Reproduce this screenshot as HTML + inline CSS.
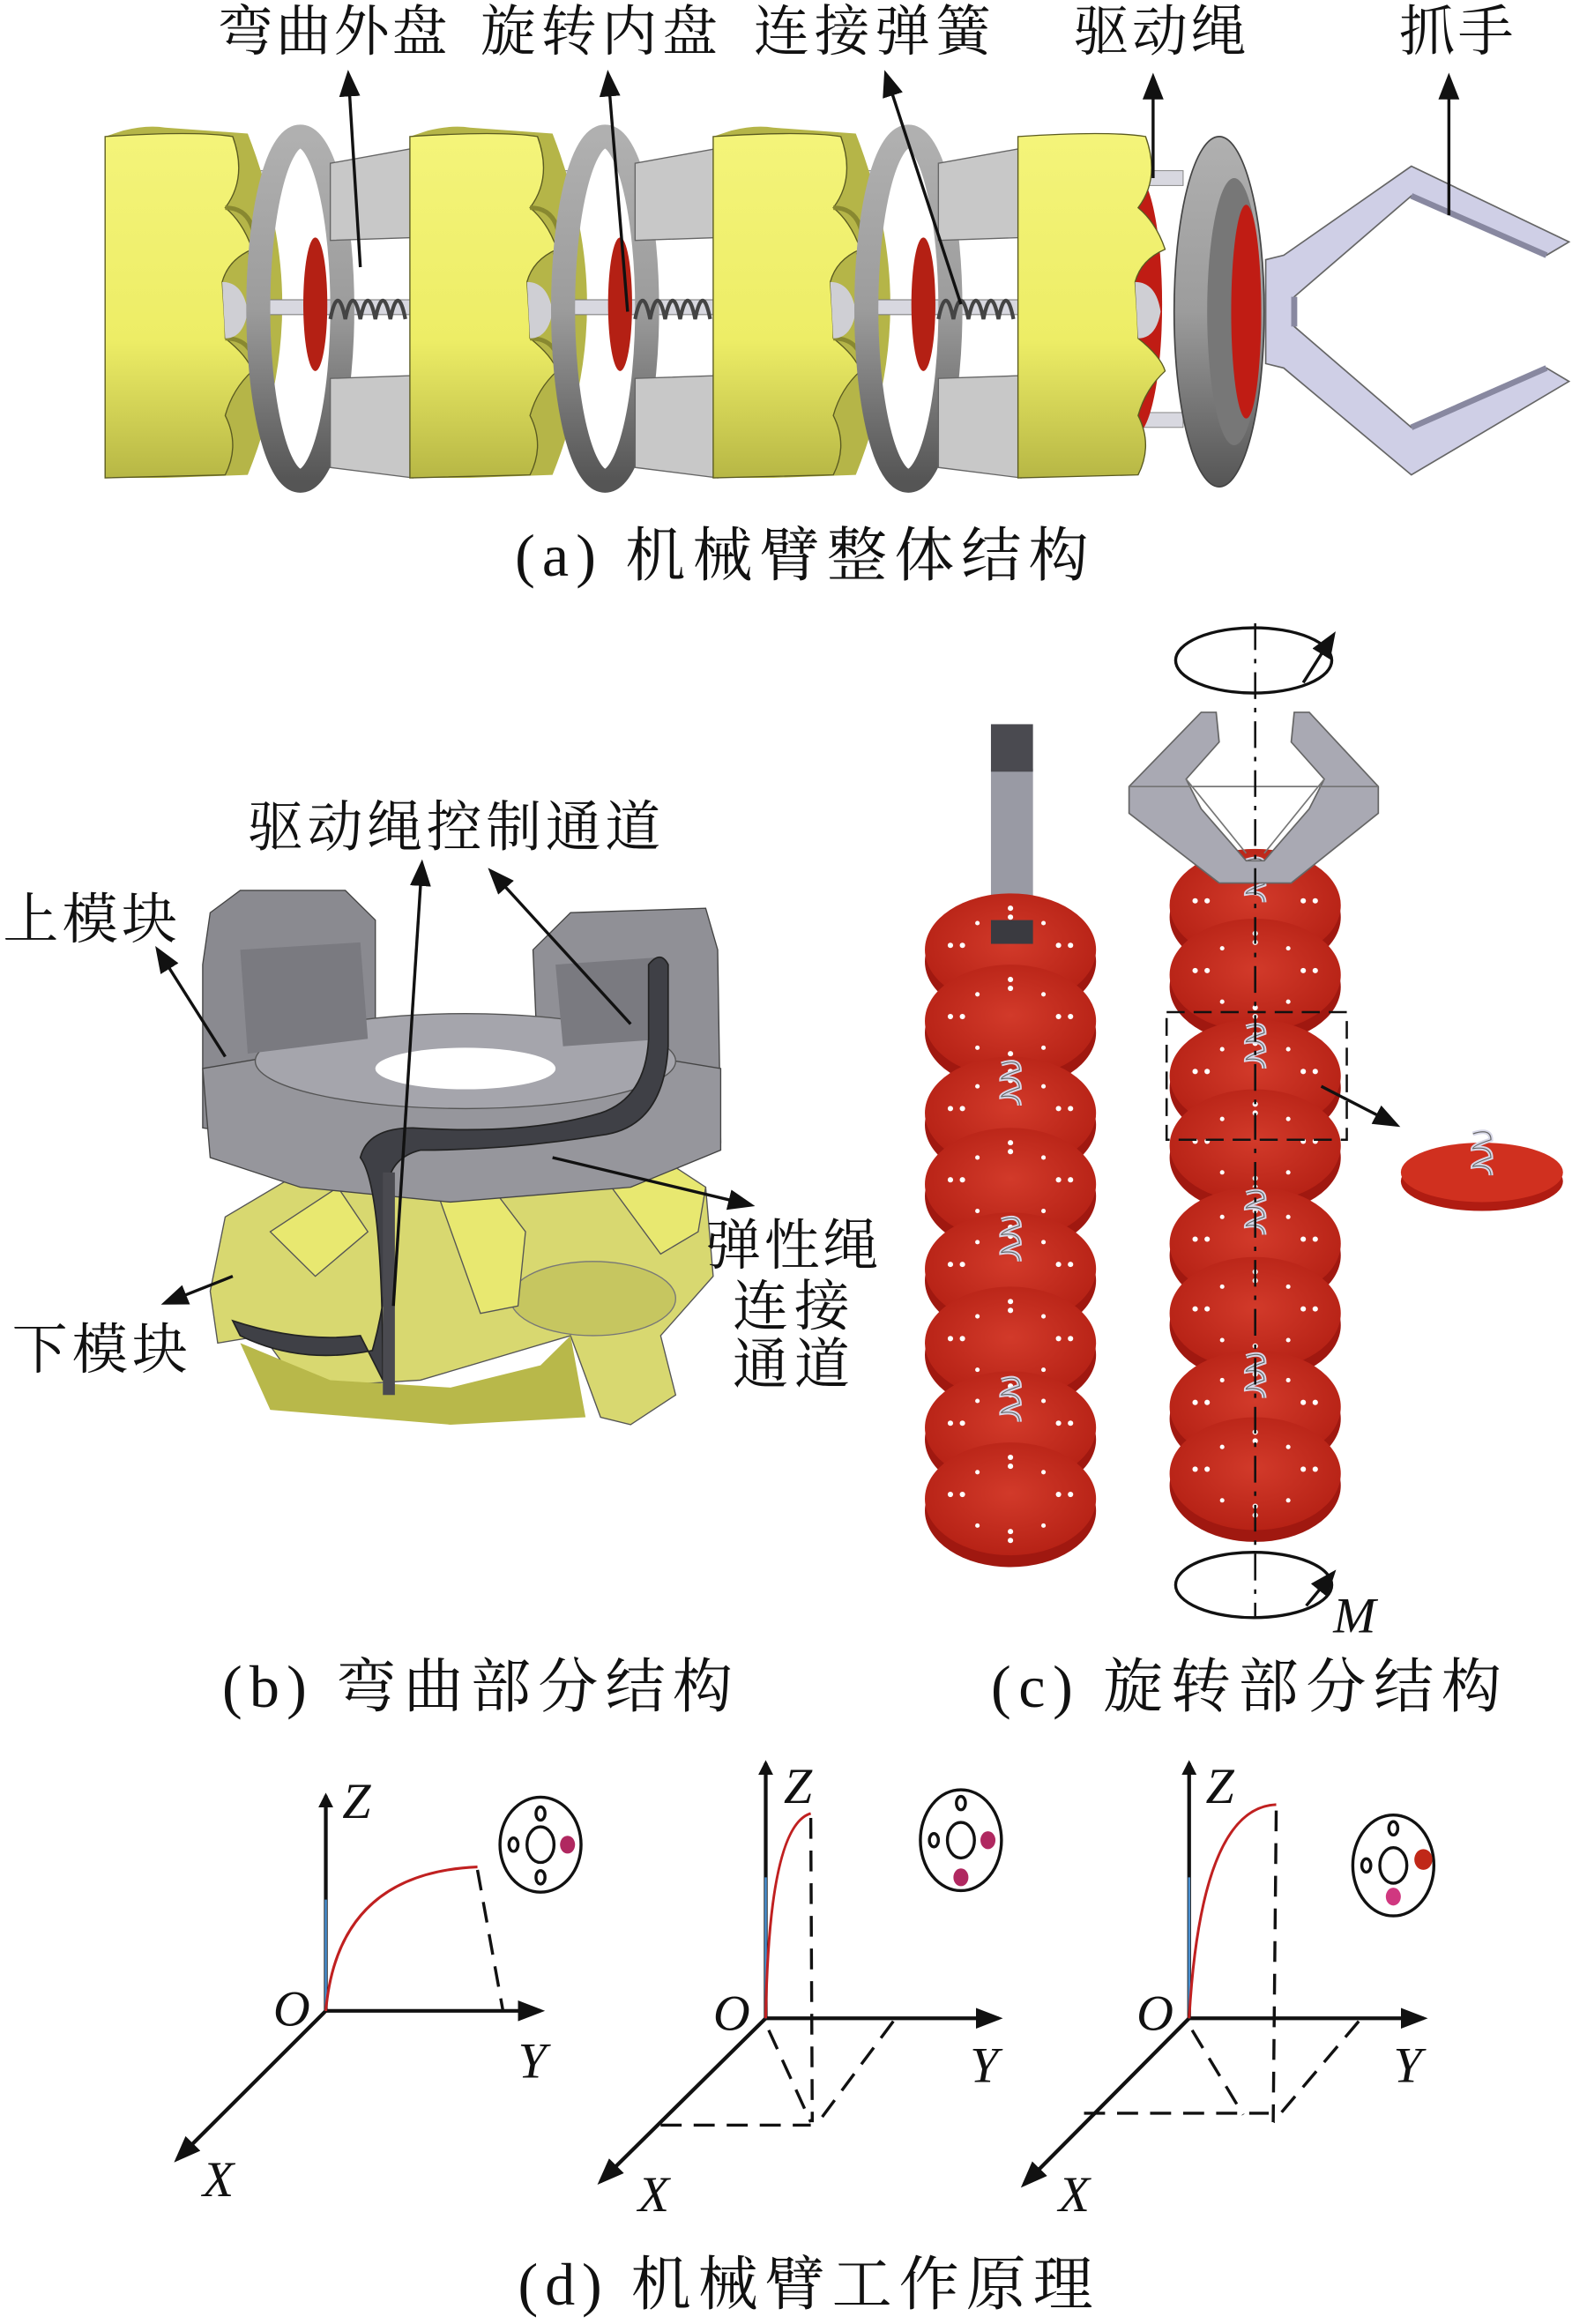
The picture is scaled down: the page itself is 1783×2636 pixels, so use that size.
<!DOCTYPE html>
<html><head><meta charset="utf-8"><style>
html,body{margin:0;padding:0;background:#fff}
svg{display:block}
text{font-family:"Liberation Serif","Noto Serif CJK SC",serif;fill:#111}
</style></head><body>
<svg width="1783" height="2636" viewBox="0 0 1047 1566" preserveAspectRatio="none" xmlns="http://www.w3.org/2000/svg">
<defs>
<marker id="ah" markerWidth="10" markerHeight="10" refX="8" refY="5" orient="auto" markerUnits="userSpaceOnUse"><path d="M0,0 L10,5 L0,10 Z" fill="#111"/></marker>
<marker id="ahb" markerWidth="18" markerHeight="14" refX="15" refY="7" orient="auto" markerUnits="userSpaceOnUse"><path d="M0,0 L18,7 L0,14 Z" fill="#111"/></marker>
<linearGradient id="yg" x1="0" y1="0" x2="0" y2="1"><stop offset="0" stop-color="#f4f47a"/><stop offset="0.6" stop-color="#eded66"/><stop offset="1" stop-color="#b7b745"/></linearGradient>
<linearGradient id="gg" x1="0" y1="0" x2="0" y2="1"><stop offset="0" stop-color="#b0b0b0"/><stop offset="0.5" stop-color="#9c9c9c"/><stop offset="1" stop-color="#555"/></linearGradient>
<radialGradient id="rg" cx="0.5" cy="0.45" r="0.6"><stop offset="0" stop-color="#d23a2a"/><stop offset="1" stop-color="#b42014"/></radialGradient>
<g id="mod">
  <rect x="40" y="115" width="70" height="10" fill="#d8d8e0" stroke="#888" stroke-width="0.6"/>
  <rect x="40" y="278" width="70" height="10" fill="#d8d8e0" stroke="#888" stroke-width="0.6"/>
  <ellipse cx="78" cy="205" rx="18" ry="88" fill="#c01c14" stroke="#600" stroke-width="1"/>
  <path d="M0,92 L12,88 Q28,84 40,86 L95,90 Q118,150 118,205 Q118,262 95,320 L40,322 L0,322 Z" fill="#b5b548"/>
  <path d="M0,92 Q60,88 85,92 Q95,120 80,140 Q92,150 98,168 Q82,175 78,190 Q80,220 80,228 Q95,240 98,250 Q85,262 80,280 Q90,300 80,320 L0,322 Z" fill="url(#yg)" stroke="#5a5a20" stroke-width="0.8"/>
  <path d="M80,140 Q100,140 100,168 L96,172 M80,228 Q100,228 100,252" fill="none" stroke="#888830" stroke-width="3"/>
  <path d="M78,190 Q92,190 95,210 Q92,228 80,228 Z" fill="#cfcfd4"/>
  <rect x="108" y="202" width="96" height="10" fill="#d8d8e0" stroke="#777" stroke-width="0.6"/>
  <ellipse cx="130" cy="208" rx="28" ry="116" fill="none" stroke="url(#gg)" stroke-width="16"/>
  <path d="M150,110 L205,100 L208,160 L150,162 Z" fill="#c8c8c8" stroke="#666" stroke-width="0.8"/>
  <path d="M150,255 L208,253 L205,322 L150,315 Z" fill="#c8c8c8" stroke="#666" stroke-width="0.8"/>
  <ellipse cx="140" cy="205" rx="8" ry="45" fill="#b42014"/>
  <path d="M150,215 q5,-25 10,0 q5,-25 10,0 q5,-25 10,0 q5,-25 10,0 q5,-25 10,0" fill="none" stroke="#444" stroke-width="2.5"/>
</g>
<g id="disc">
  <ellipse cx="0" cy="8" rx="57" ry="38" fill="#a01810"/>
  <ellipse cx="0" cy="0" rx="57" ry="38" fill="url(#rg)"/>
  <g fill="#fff"><circle cx="-40" cy="-3" r="1.8"/><circle cx="-32" cy="-3" r="1.8"/><circle cx="32" cy="-3" r="1.8"/><circle cx="40" cy="-3" r="1.8"/><circle cx="0" cy="-28" r="1.8"/><circle cx="0" cy="-22" r="1.8"/><circle cx="0" cy="22" r="1.8"/><circle cx="0" cy="28" r="1.8"/><circle cx="-22" cy="-18" r="1.5"/><circle cx="22" cy="18" r="1.5"/><circle cx="22" cy="-18" r="1.5"/><circle cx="-22" cy="18" r="1.5"/></g>
</g>
<g id="spr"><path d="M-6,-18 q12,-4 12,4 q-12,4 -12,6 q12,-2 12,6 q-12,4 -12,6 q12,-2 12,6" fill="none" stroke="#d8d8e8" stroke-width="3"/><path d="M-6,-18 q12,-4 12,4 q-12,4 -12,6 q12,-2 12,6 q-12,4 -12,6 q12,-2 12,6" fill="none" stroke="#666" stroke-width="0.7"/></g>
</defs>

<text x="145" y="34" font-size="37" textLength="153">弯曲外盘</text>
<text x="320" y="34" font-size="37" textLength="158">旋转内盘</text>
<text x="502" y="34" font-size="37" textLength="158">连接弹簧</text>
<text x="715" y="34" font-size="37" textLength="115">驱动绳</text>
<text x="932" y="34" font-size="37" textLength="76">抓手</text>

<use href="#mod" x="70" y="0"/>
<use href="#mod" x="273" y="0"/>
<use href="#mod" x="475" y="0"/>
<g transform="translate(678,0)">
  <rect x="40" y="115" width="70" height="10" fill="#d8d8e0" stroke="#888" stroke-width="0.6"/>
  <rect x="40" y="278" width="70" height="10" fill="#d8d8e0" stroke="#888" stroke-width="0.6"/>
  <ellipse cx="78" cy="205" rx="18" ry="88" fill="#c01c14"/>
  <path d="M0,92 Q60,88 85,92 Q95,120 80,140 Q92,150 98,168 Q82,175 78,190 Q80,220 80,228 Q95,240 98,250 Q85,262 80,280 Q90,300 80,320 L0,322 Z" fill="url(#yg)" stroke="#5a5a20" stroke-width="0.8"/>
  <path d="M78,190 Q92,190 95,210 Q92,228 80,228 Z" fill="#cfcfd4"/>
</g>
<ellipse cx="812" cy="210" rx="30" ry="118" fill="url(#gg)" stroke="#444" stroke-width="1"/>
<ellipse cx="822" cy="210" rx="18" ry="90" fill="#777"/>
<ellipse cx="830" cy="210" rx="10" ry="72" fill="#c01c14"/>
<path d="M843,175 L855,172 L940,112 L1045,163 L1030,172 L940,132 L862,200 L862,220 L940,288 L1030,248 L1045,257 L940,320 L855,248 L843,245 Z" fill="#cfcfe6" stroke="#666" stroke-width="1"/>
<path d="M940,132 L1030,172 M862,200 L862,220 M940,288 L1030,248" stroke="#8888a0" stroke-width="4" fill="none"/>

<line x1="240" y1="180" x2="232" y2="50" stroke="#111" stroke-width="2" marker-end="url(#ahb)"/>
<line x1="418" y1="210" x2="405" y2="50" stroke="#111" stroke-width="2" marker-end="url(#ahb)"/>
<line x1="640" y1="205" x2="590" y2="50" stroke="#111" stroke-width="2" marker-end="url(#ahb)"/>
<line x1="768" y1="120" x2="768" y2="52" stroke="#111" stroke-width="2" marker-end="url(#ahb)"/>
<line x1="965" y1="145" x2="965" y2="52" stroke="#111" stroke-width="2" marker-end="url(#ahb)"/>

<text x="343" y="388" font-size="40" textLength="382">(a) 机械臂整体结构</text>

<!-- Panel b -->
<path d="M140,870 L150,820 L200,790 L320,780 L400,785 L470,800 L475,860 L440,900 L450,940 L420,960 L400,955 L380,900 L280,930 L200,935 L175,900 L145,905 Z" fill="#d8d870" stroke="#555" stroke-width="0.8"/>
<path d="M160,905 L220,930 L300,935 L360,920 L380,900 L390,955 L300,960 L180,950 Z" fill="#b8b84a"/>
<ellipse cx="395" cy="875" rx="55" ry="25" fill="#c6c660" stroke="#777" stroke-width="0.8"/>
<path d="M400,790 L440,780 L470,800 L465,830 L440,845 Z" fill="#e8e870" stroke="#555" stroke-width="0.8"/>
<path d="M180,830 L225,800 L245,830 L210,860 Z" fill="#e8e870" stroke="#555" stroke-width="0.8"/>
<path d="M290,800 L320,790 L350,830 L345,880 L320,885 Z" fill="#e8e870" stroke="#555" stroke-width="0.8"/>
<path d="M135,650 L140,615 L160,600 L230,600 L250,620 L250,770 L200,770 L135,760 Z" fill="#8a8a90" stroke="#444" stroke-width="0.8"/>
<path d="M355,640 L380,615 L470,612 L478,640 L480,770 L420,790 L360,760 Z" fill="#909096" stroke="#444" stroke-width="0.8"/>
<path d="M135,720 L250,700 L360,700 L480,720 L480,775 L420,800 L300,810 L200,800 L140,780 Z" fill="#96969c" stroke="#444" stroke-width="0.8"/>
<ellipse cx="310" cy="715" rx="140" ry="32" fill="#a5a5ac" stroke="#555" stroke-width="0.8"/>
<ellipse cx="310" cy="720" rx="60" ry="14" fill="#fff"/>
<path d="M160,640 L240,635 L245,700 L165,710 Z" fill="#7a7a80"/>
<path d="M370,650 L440,645 L445,700 L375,705 Z" fill="#7a7a80"/>
<path d="M255,930 Q255,800 240,780 Q245,760 275,760 Q350,765 400,750 Q430,740 432,700 L432,650 Q440,640 445,650 L445,705 Q442,760 400,765 Q340,775 280,775 Q260,780 258,800 Q262,860 248,910 Q200,920 160,900 L155,890 Q200,905 240,900 Z" fill="#3f4046" stroke="#222" stroke-width="1"/>
<rect x="255" y="790" width="8" height="150" fill="#4a4a50"/>
<text x="165" y="570" font-size="37" textLength="275">驱动绳控制通道</text>
<text x="2" y="632" font-size="37" textLength="116">上模块</text>
<text x="8" y="922" font-size="37" textLength="117">下模块</text>
<text x="470" y="852" font-size="37" textLength="115">弹性绳</text>
<text x="488" y="893" font-size="37" textLength="78">连接</text>
<text x="488" y="932" font-size="37" textLength="78">通道</text>
<line x1="262" y1="880" x2="281" y2="582" stroke="#111" stroke-width="2" marker-end="url(#ahb)"/>
<line x1="420" y1="690" x2="327" y2="587" stroke="#111" stroke-width="2" marker-end="url(#ahb)"/>
<line x1="150" y1="712" x2="105" y2="640" stroke="#111" stroke-width="2" marker-end="url(#ahb)"/>
<line x1="368" y1="780" x2="500" y2="812" stroke="#111" stroke-width="2" marker-end="url(#ahb)"/>
<line x1="155" y1="860" x2="110" y2="878" stroke="#111" stroke-width="2" marker-end="url(#ahb)"/>
<text x="148" y="1150" font-size="40" textLength="340">(b) 弯曲部分结构</text>

<!-- Panel c -->
<rect x="660" y="518" width="28" height="110" fill="#999aa4"/>
<rect x="660" y="488" width="28" height="32" fill="#4a4a50"/>
<use href="#disc" x="673" y="640"/>
<rect x="660" y="620" width="28" height="16" fill="#3a3a40"/>
<use href="#disc" x="673" y="688"/>
<use href="#disc" x="673" y="750"/>
<use href="#spr" x="673" y="735"/>
<use href="#disc" x="673" y="798"/>
<use href="#disc" x="673" y="855"/>
<use href="#spr" x="673" y="840"/>
<use href="#disc" x="673" y="905"/>
<use href="#disc" x="673" y="962"/>
<use href="#spr" x="673" y="948"/>
<use href="#disc" x="673" y="1010"/>

<ellipse cx="835" cy="445" rx="52" ry="22" fill="none" stroke="#111" stroke-width="2"/>
<path d="M868,460 L888,428" stroke="#111" stroke-width="2" marker-end="url(#ahb)"/>
<use href="#disc" x="836" y="610"/>
<use href="#spr" x="836" y="598"/>
<use href="#disc" x="836" y="657"/>
<use href="#disc" x="836" y="725"/>
<use href="#spr" x="836" y="710"/>
<use href="#disc" x="836" y="772"/>
<use href="#disc" x="836" y="838"/>
<use href="#spr" x="836" y="822"/>
<use href="#disc" x="836" y="885"/>
<use href="#disc" x="836" y="948"/>
<use href="#spr" x="836" y="932"/>
<use href="#disc" x="836" y="993"/>
<path d="M752,530 L800,480 L810,480 L812,500 L790,525 L800,545 L830,580 L842,580 L872,545 L882,525 L860,500 L862,480 L872,480 L918,530 L918,548 L860,595 L812,595 L752,548 Z" fill="#a9a9b3" stroke="#666" stroke-width="1"/>
<path d="M790,525 L830,575 M882,525 L842,575 M752,530 L918,530" stroke="#777" stroke-width="1" fill="none"/>
<line x1="836" y1="420" x2="836" y2="1090" stroke="#111" stroke-width="1.5" stroke-dasharray="18,6,3,6"/>
<rect x="777" y="682" width="120" height="86" fill="none" stroke="#111" stroke-width="1.5" stroke-dasharray="12,6"/>
<line x1="880" y1="732" x2="930" y2="758" stroke="#111" stroke-width="2" marker-end="url(#ahb)"/>
<ellipse cx="987" cy="796" rx="54" ry="20" fill="#b01c12"/>
<ellipse cx="987" cy="790" rx="54" ry="20" fill="#d0301f"/>
<use href="#spr" x="987" y="782"/>
<ellipse cx="835" cy="1068" rx="52" ry="22" fill="none" stroke="#111" stroke-width="2"/>
<path d="M870,1082 L888,1060" stroke="#111" stroke-width="2" marker-end="url(#ahb)"/>
<text x="888" y="1100" font-size="34" font-style="italic">M</text>
<text x="660" y="1150" font-size="40" textLength="340">(c) 旋转部分结构</text>

<!-- Panel d -->
<g stroke="#111" stroke-width="2.5" fill="none">
  <line x1="217" y1="1355" x2="217" y2="1210" marker-end="url(#ah)"/>
  <line x1="217" y1="1355" x2="360" y2="1355" marker-end="url(#ahb)"/>
  <line x1="217" y1="1355" x2="118" y2="1455" marker-end="url(#ahb)"/>
  <line x1="510" y1="1360" x2="510" y2="1188" marker-end="url(#ah)"/>
  <line x1="510" y1="1360" x2="665" y2="1360" marker-end="url(#ahb)"/>
  <line x1="510" y1="1360" x2="400" y2="1470" marker-end="url(#ahb)"/>
  <line x1="792" y1="1360" x2="792" y2="1188" marker-end="url(#ah)"/>
  <line x1="792" y1="1360" x2="948" y2="1360" marker-end="url(#ahb)"/>
  <line x1="792" y1="1360" x2="682" y2="1472" marker-end="url(#ahb)"/>
</g>
<g stroke="#4a90d0" stroke-width="1.5"><line x1="217" y1="1355" x2="217" y2="1280"/><line x1="510" y1="1360" x2="510" y2="1265"/><line x1="792" y1="1360" x2="792" y2="1265"/></g>
<g stroke="#c02020" stroke-width="1.8" fill="none">
  <path d="M217,1355 Q225,1262 318,1258"/>
  <path d="M510,1360 Q512,1230 540,1222"/>
  <path d="M792,1360 Q800,1218 850,1216"/>
</g>
<g stroke="#111" stroke-width="2" fill="none" stroke-dasharray="14,8">
  <line x1="318" y1="1260" x2="335" y2="1355"/>
  <line x1="540" y1="1225" x2="541" y2="1430"/>
  <line x1="512" y1="1368" x2="540" y2="1430"/>
  <line x1="595" y1="1362" x2="545" y2="1430"/>
  <line x1="440" y1="1432" x2="540" y2="1432"/>
  <line x1="850" y1="1220" x2="848" y2="1430"/>
  <line x1="794" y1="1368" x2="828" y2="1425"/>
  <line x1="905" y1="1362" x2="848" y2="1430"/>
  <line x1="722" y1="1424" x2="845" y2="1424"/>
</g>
<g fill="none" stroke="#111" stroke-width="2">
  <ellipse cx="360" cy="1243" rx="27" ry="32"/><ellipse cx="360" cy="1243" rx="9" ry="12"/>
  <ellipse cx="360" cy="1222" rx="3" ry="4.5"/><ellipse cx="360" cy="1265" rx="3" ry="4.5"/><ellipse cx="342" cy="1243" rx="3" ry="4.5"/>
  <ellipse cx="640" cy="1240" rx="27" ry="34"/><ellipse cx="640" cy="1240" rx="9" ry="12"/>
  <ellipse cx="640" cy="1215" rx="3" ry="4.5"/><ellipse cx="622" cy="1240" rx="3" ry="4.5"/>
  <ellipse cx="928" cy="1257" rx="27" ry="34"/><ellipse cx="928" cy="1257" rx="9" ry="12"/>
  <ellipse cx="928" cy="1232" rx="3" ry="4.5"/><ellipse cx="910" cy="1257" rx="3" ry="4.5"/>
</g>
<g fill="#b02860"><ellipse cx="378" cy="1243" rx="5" ry="6"/><ellipse cx="658" cy="1240" rx="5" ry="6"/><ellipse cx="640" cy="1265" rx="5" ry="6"/><ellipse cx="928" cy="1278" rx="5" ry="6" fill="#d03880"/></g>
<ellipse cx="948" cy="1253" rx="6" ry="7" fill="#c02818"/>
<g font-size="34" font-style="italic">
  <text x="228" y="1225">Z</text><text x="182" y="1365">O</text><text x="345" y="1400">Y</text><text x="135" y="1480">X</text>
  <text x="522" y="1215">Z</text><text x="475" y="1368">O</text><text x="646" y="1403">Y</text><text x="425" y="1490">X</text>
  <text x="803" y="1215">Z</text><text x="757" y="1368">O</text><text x="928" y="1403">Y</text><text x="705" y="1490">X</text>
</g>
<text x="345" y="1553" font-size="40" textLength="383">(d) 机械臂工作原理</text>
</svg>
</body></html>
